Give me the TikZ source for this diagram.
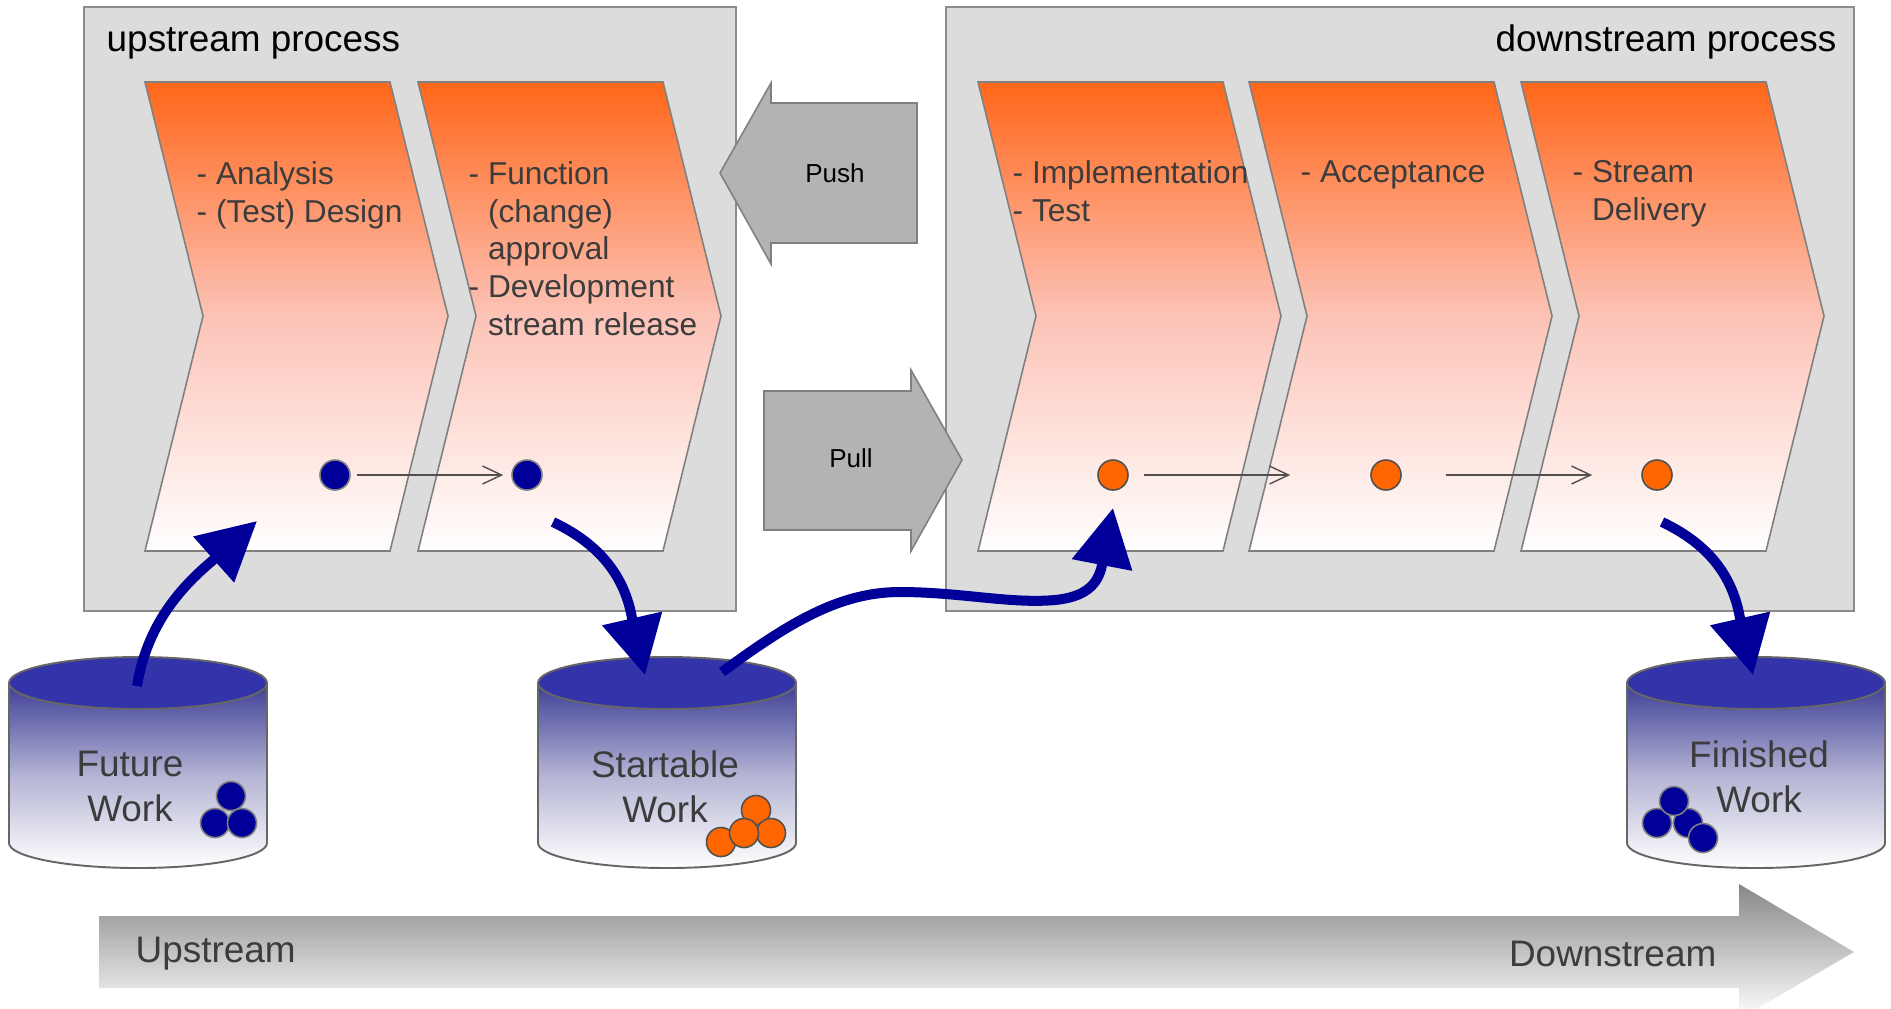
\documentclass[tikz,border=0pt]{standalone}
\usepackage{fontspec}
\setmainfont{Liberation Sans}
\usetikzlibrary{positioning,arrows.meta,calc}
\definecolor{panelgray}{HTML}{DCDCDC}
\definecolor{panelline}{HTML}{8C8C8C}
\definecolor{chevronline}{HTML}{808080}
\definecolor{chevrontop}{RGB}{255,102,25}
\definecolor{chevronmid}{RGB}{252,195,183}
\definecolor{textgray}{HTML}{3C3C3C}
\definecolor{workblue}{HTML}{000099}
\definecolor{workorange}{HTML}{FF6600}
\definecolor{ballline}{HTML}{808080}
\definecolor{orangeline}{HTML}{505050}
\definecolor{flowline}{HTML}{505050}
\definecolor{pushgray}{HTML}{B3B3B3}
\definecolor{pushline}{HTML}{808080}
\definecolor{tanktop}{HTML}{3333AA}
\definecolor{tankbody}{RGB}{62,62,150}
\definecolor{tankmid}{RGB}{180,180,212}
\definecolor{tankline}{HTML}{666666}
\tikzstyle{panel} = [draw=panelline, line width=0.55pt, fill=panelgray]
\tikzstyle{chevron} = [draw=chevronline, line width=0.45pt, top color=chevrontop, bottom color=white, middle color=chevronmid]
\tikzstyle{stage-text} = [anchor=north west, align=left, inner sep=0pt, text=textgray, font=\fontsize{9}{10.7}\selectfont]
\tikzstyle{process-title} = [inner sep=0pt, font=\fontsize{10.5}{12.8}\selectfont]
\tikzstyle{work-dot} = [circle, minimum size=0.3cm, inner sep=0pt, line width=0.45pt]
\tikzstyle{blue-dot} = [work-dot, draw=ballline, fill=workblue]
\tikzstyle{orange-dot} = [work-dot, draw=orangeline, fill=workorange]
\tikzstyle{small-arrow} = [draw=flowline, line width=0.4pt, -{Straight Barb[length=0.19cm,width=0.18cm]}]
\tikzstyle{big-arrow} = [draw=workblue, line width=0.1cm, -{Triangle[length=0.58cm,width=0.59cm]}]
\tikzstyle{push-pull} = [draw=pushline, line width=0.45pt, fill=pushgray]
\tikzstyle{push-pull-text} = [inner sep=0pt, font=\fontsize{7.4}{9}\selectfont]
\tikzstyle{tank-body} = [draw=tankline, line width=0.55pt, top color=tankbody, bottom color=white, middle color=tankmid]
\tikzstyle{tank-top} = [draw=tankline, line width=0.55pt, fill=tanktop]
\tikzstyle{tank-text} = [align=center, anchor=north, inner sep=0pt, text=textgray, font=\fontsize{10.5}{12.8}\selectfont]
\tikzstyle{direction-arrow} = [top color=black!47, bottom color=white]
\tikzstyle{direction-text} = [inner sep=0pt, text=textgray, font=\fontsize{10.5}{12.8}\selectfont]
\begin{document}
\begin{tikzpicture}[x=0.01cm, y=-0.01cm]
        \useasboundingbox (0,0) rectangle (1891,1008);
        \clip (0,0) rectangle (1891,1008);

        % process panels
        \draw [panel] (84,7) rectangle (736,611);
        \draw [panel] (946,7) rectangle (1854,611);
        \node (upstream-title) [process-title, anchor=base west] at (106,51) {upstream process};
        \node (downstream-title) [process-title, anchor=base east] at (1837,51) {downstream process};

        % stages
        \foreach \x in {145,418,978,1249,1521}
            \draw [chevron] (\x,82) -- ++(245,0) -- ++(58,234) -- ++(-58,235) -- ++(-245,0) -- ++(58,-235) -- cycle;
        \node (analysis) [stage-text] at (196,161) {- Analysis\\- (Test) Design};
        \node (function) [stage-text] at (468,161) {- Function\\\hphantom{- }(change)\\\hphantom{- }approval\\- Development\\\hphantom{- }stream release};
        \node (implementation) [stage-text] at (1012,160) {- Implementation\\- Test};
        \node (acceptance) [stage-text] at (1300,160) {- Acceptance};
        \node (delivery) [stage-text] at (1572,160) {- Stream\\\hphantom{- }Delivery};

        \node (analysis-dot) [blue-dot] at (335,475) {};
        \node (function-dot) [blue-dot] at (527,475) {};
        \node (implementation-dot) [orange-dot] at (1113,475) {};
        \node (acceptance-dot) [orange-dot] at (1386,475) {};
        \node (delivery-dot) [orange-dot] at (1657,475) {};

        \draw [small-arrow, shorten <=0.06cm, shorten >=0.08cm] (analysis-dot) -- (function-dot);
        \draw [small-arrow, shorten <=0.15cm, shorten >=0.8cm] (implementation-dot) -- (acceptance-dot);
        \draw [small-arrow, shorten <=0.44cm, shorten >=0.49cm] (acceptance-dot) -- (delivery-dot);

        % push and pull
        \draw [push-pull] (720,173) -- (771,83) -- (771,103) -- (917,103) -- (917,243) -- (771,243) -- (771,264) -- cycle;
        \node (push) [push-pull-text] at (835,173) {Push};
        \draw [push-pull] (764,391) -- (911,391) -- (911,370) -- (962,460) -- (911,551) -- (911,530) -- (764,530) -- cycle;
        \node (pull) [push-pull-text] at (851,458) {Pull};

        % work stores
        \foreach \cx in {138,667,1756} {
            \draw [tank-body] (\cx-129,683) -- (\cx-129,843) arc[start angle=180, end angle=0, x radius=129, y radius=25] -- (\cx+129,683) -- cycle;
            \draw [tank-top] (\cx,683) ellipse [x radius=129, y radius=26];
        }
        \node (future) [tank-text] at (130,750) {Future\\Work};
        \node (startable) [tank-text] at (665,750) {Startable\\Work};
        \node (finished) [tank-text] at (1759,740) {Finished\\Work};

        \foreach \bx/\by [count=\i] in {231/796,215/823,242/823}
            \node (future-ball-\i) [blue-dot, minimum size=0.29cm] at (\bx,\by) {};
        \foreach \bx/\by [count=\i] in {756/810,721/842,771/833,744/833}
            \node (startable-ball-\i) [orange-dot, minimum size=0.29cm] at (\bx,\by) {};
        \foreach \bx/\by [count=\i] in {1657/823,1688/823,1674/801,1703/838}
            \node (finished-ball-\i) [blue-dot, minimum size=0.29cm] at (\bx,\by) {};

        % work flow
        \coordinate (future-out) at (137,686);
        \coordinate (analysis-in) at (257,521);
        \coordinate (function-out) at (553,522);
        \coordinate (startable-in) at (645,675);
        \coordinate (startable-out) at (722,672);
        \coordinate (implementation-in) at (1113,508);
        \coordinate (delivery-out) at (1662,522);
        \coordinate (finished-in) at (1753,675);

        \draw [big-arrow] (future-out) .. controls +(10,-61) and +(-32,27) .. ($(analysis-in)+(-45,40)$) -- (analysis-in);
        \draw [big-arrow] (function-out) .. controls +(55,26) and +(-6,-33) .. ($(startable-in)+(-13,-57)$) -- (startable-in);
        \draw [big-arrow] (startable-out) .. controls +(68,-50) and +(-60,0) .. (900,592) .. controls +(60,0) and +(-45,4) .. (1055,600) .. controls +(30,-3) and +(-4,20) .. ($(implementation-in)+(-11,57)$) -- (implementation-in);
        \draw [big-arrow] (delivery-out) .. controls +(55,26) and +(-6,-33) .. ($(finished-in)+(-13,-57)$) -- (finished-in);

        % direction
        \shade [direction-arrow] (99,916) -- (1739,916) -- (1739,884) -- (1854,952) -- (1739,1019) -- (1739,988) -- (99,988) -- cycle;
        \node (upstream) [direction-text, anchor=base west] at (135,962) {Upstream};
        \node (downstream) [direction-text, anchor=base east] at (1717,966) {Downstream};
    \end{tikzpicture}
\end{document}
